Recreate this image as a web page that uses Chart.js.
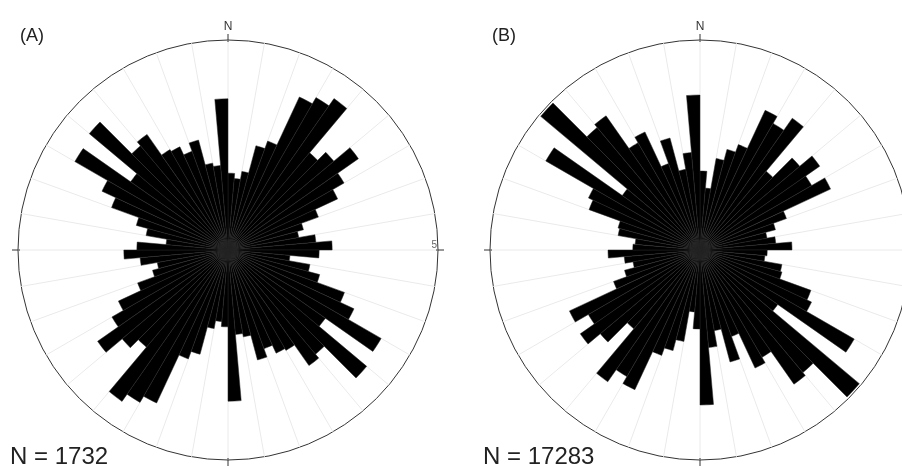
<!DOCTYPE html>
<html>
<head>
<meta charset="utf-8">
<script src="https://cdn.jsdelivr.net/npm/chart.js@4.4.0/dist/chart.umd.min.js"></script>
<style>
  html, body { margin: 0; padding: 0; background: #fff; }
  body { width: 902px; height: 466px; position: relative; overflow: hidden;
         font-family: "Liberation Sans", Arial, sans-serif; color: #222; }
  canvas { position: absolute; top: 0; }
  #roseA { left: 0; }
  #roseB { left: 460px; }
  .tag { position: absolute; top: 26px; font-size: 18px; line-height: 1; }
  .count { position: absolute; top: 444px; font-size: 24px; line-height: 1; white-space: nowrap; }
</style>
</head>
<body>
<canvas id="roseA" width="460" height="466"></canvas>
<canvas id="roseB" width="460" height="466"></canvas>
<div class="tag" style="left:20px">(A)</div>
<div class="tag" style="left:492px">(B)</div>
<div class="count" style="left:10px">N = 1732</div>
<div class="count" style="left:483px">N = 17283</div>

<script>
// 5° bins, clockwise from north
const binStarts = [
  0, 5, 10, 15, 20, 25, 30, 35, 40, 45, 50, 55, 60, 65, 70, 75, 80, 85,
  90, 95, 100, 105, 110, 115, 120, 125, 130, 135, 140, 145, 150, 155, 160, 165, 170, 175,
  180, 185, 190, 195, 200, 205, 210, 215, 220, 225, 230, 235, 240, 245, 250, 255, 260, 265,
  270, 275, 280, 285, 290, 295, 300, 305, 310, 315, 320, 325, 330, 335, 340, 345, 350, 355
];

// bar lengths for 0–180°, the rose is bidirectional so 180–360° repeats them
const halfA = [1.83, 1.71, 1.90, 2.57, 2.76, 4.02, 4.19, 4.40, 3.02, 3.29, 3.79, 3.19,
               2.88, 2.29, 1.86, 1.71, 2.10, 2.48, 2.17, 1.48, 1.98, 2.26, 2.95, 3.31,
               4.21, 2.83, 4.31, 3.24, 3.36, 2.76, 2.71, 2.50, 2.71, 2.10, 2.02, 3.60];
const halfB = [1.88, 1.48, 2.21, 2.48, 2.67, 3.67, 3.48, 3.83, 2.45, 3.10, 3.48, 3.07,
               3.43, 2.19, 1.86, 1.62, 1.81, 2.19, 1.60, 1.55, 1.98, 2.02, 2.81, 2.93,
               4.24, 2.26, 4.95, 3.81, 3.90, 2.95, 3.10, 2.19, 2.76, 1.95, 2.33, 3.69];

const rMax = 5;
const gridStep = 10; // light radial lines every 10°

// N label, axis ticks and the max value label
const roseDecor = {
  id: 'roseDecor',
  afterDraw(chart) {
    const s = chart.scales.r;
    const ctx = chart.ctx;
    const R = s.drawingArea;
    ctx.save();
    ctx.strokeStyle = '#333';
    ctx.lineWidth = 1;
    [0, 90, 180, 270].forEach(deg => {
      const a = deg * Math.PI / 180 - Math.PI / 2;
      ctx.beginPath();
      ctx.moveTo(s.xCenter + Math.cos(a) * (R - 2), s.yCenter + Math.sin(a) * (R - 2));
      ctx.lineTo(s.xCenter + Math.cos(a) * (R + 6), s.yCenter + Math.sin(a) * (R + 6));
      ctx.stroke();
    });
    ctx.fillStyle = '#333';
    ctx.font = '12px "Liberation Sans", Arial, sans-serif';
    ctx.textAlign = 'center';
    ctx.textBaseline = 'alphabetic';
    ctx.fillText('N', s.xCenter, s.yCenter - R - 10);
    ctx.font = '10px "Liberation Sans", Arial, sans-serif';
    ctx.fillStyle = '#666';
    ctx.textAlign = 'right';
    ctx.fillText(String(rMax), s.xCenter + R - 1, s.yCenter - 2);
    ctx.restore();
  }
};

function makeRose(id, values, padding) {
  const ctx = document.getElementById(id).getContext('2d');
  return new Chart(ctx, {
    type: 'polarArea',
    data: {
      labels: binStarts.map(d => d + '°'),
      datasets: [{
        data: values,
        backgroundColor: '#000',
        borderColor: '#262626',
        borderWidth: 0.5
      }]
    },
    options: {
      responsive: false,
      animation: false,
      layout: { padding: padding },
      plugins: {
        legend: { display: false },
        tooltip: { enabled: false }
      },
      scales: {
        r: {
          min: 0,
          max: rMax,
          startAngle: 0,
          ticks: { display: false, stepSize: rMax },
          pointLabels: { display: false },
          grid: { circular: true, color: '#333', lineWidth: 1 },
          angleLines: {
            display: true,
            color: '#eaeaea',
            lineWidth: c => (binStarts[c.index] % gridStep === 0 ? 1 : 0)
          }
        }
      }
    },
    plugins: [roseDecor]
  });
}

makeRose('roseA', halfA.concat(halfA), { left: 18, right: 22, top: 40, bottom: 6 });
makeRose('roseB', halfB.concat(halfB), { left: 30, right: 10, top: 40, bottom: 6 });
</script>
</body>
</html>
